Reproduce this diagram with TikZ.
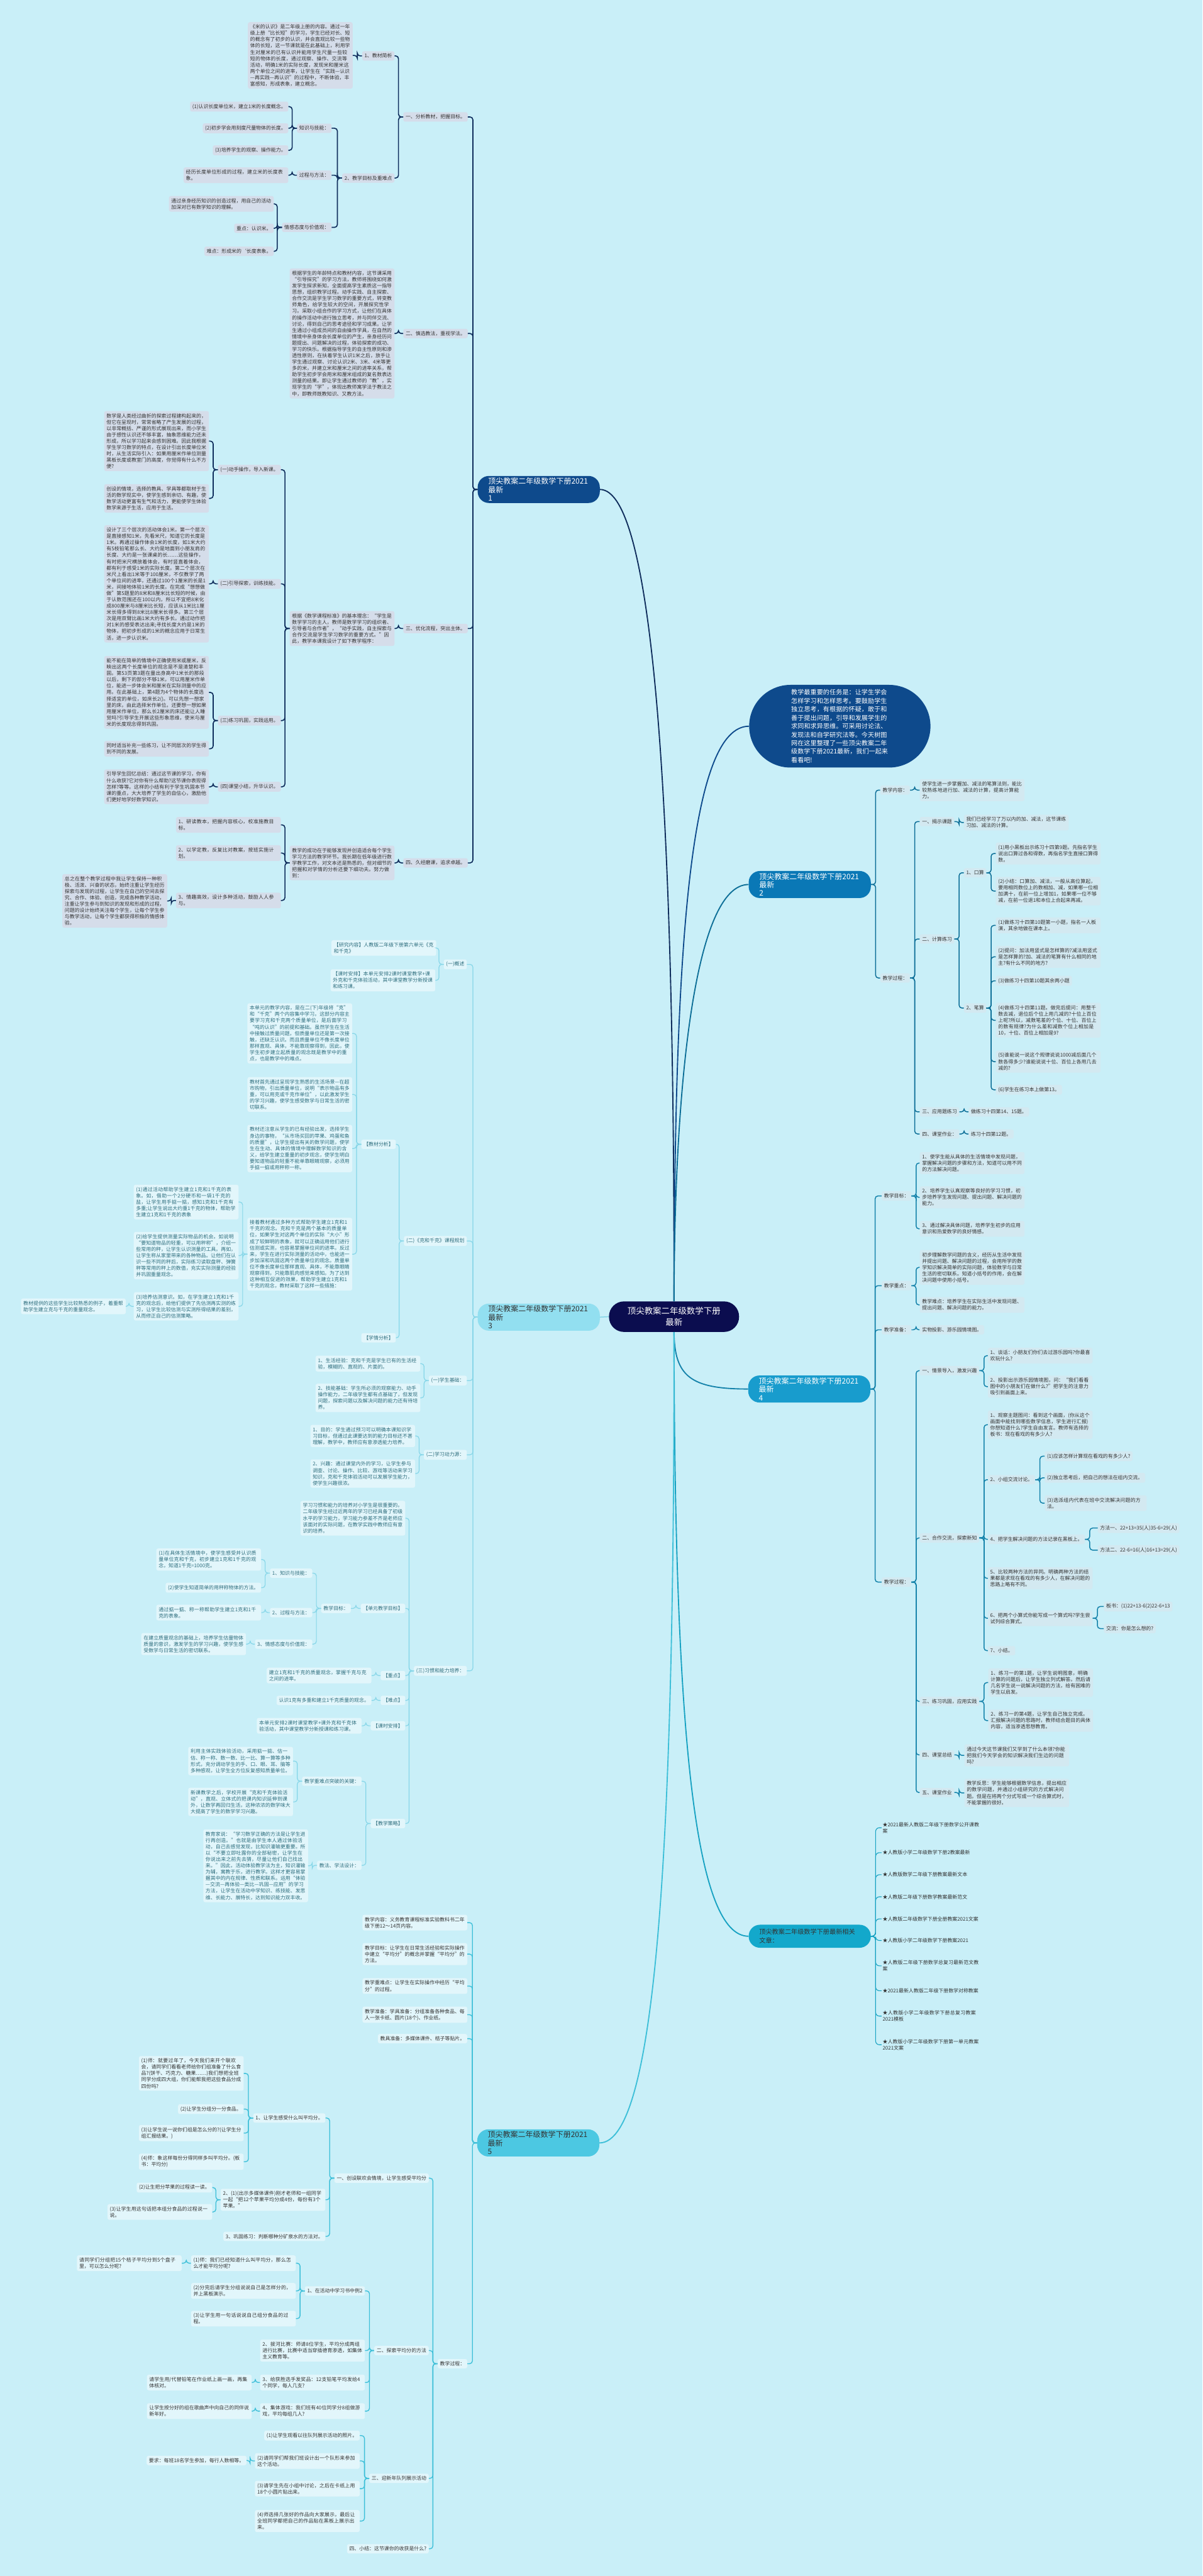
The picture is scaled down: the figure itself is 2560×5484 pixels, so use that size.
\documentclass[tikz,border=0pt]{standalone}
\usepackage{fontspec}
\setmainfont{Noto Sans CJK SC}
\XeTeXlinebreaklocale "zh"
\XeTeXlinebreakskip = 0pt plus 1pt
\usepackage{xcolor}
\usepackage{tikz}

\definecolor{bgc}{HTML}{C9EFF8}
\definecolor{ink}{HTML}{333333}
\definecolor{navy}{HTML}{0B0D4F}
\definecolor{bOne}{HTML}{0E4A8C}
\definecolor{lOne}{HTML}{0F2D5C}
\definecolor{fOne}{HTML}{D5DDEA}
\definecolor{bTwo}{HTML}{0A78B6}
\definecolor{lTwo}{HTML}{0C6E97}
\definecolor{fTwo}{HTML}{D3E9F1}
\definecolor{bThree}{HTML}{92DFF0}
\definecolor{lThree}{HTML}{86D6E8}
\definecolor{fThree}{HTML}{E2F6FB}
\definecolor{tThree}{HTML}{2E6E7E}
\definecolor{bFour}{HTML}{189CCD}
\definecolor{lFour}{HTML}{1482AA}
\definecolor{bFive}{HTML}{4CC8E2}
\definecolor{lFive}{HTML}{3DBFD8}
\definecolor{bSix}{HTML}{13A8CB}
\definecolor{lSix}{HTML}{17A2C2}

\newcommand{\txtcjk}{\fontsize{10.6pt}{13.5pt}\selectfont}
\newcommand{\rootcjk}{\fontsize{16pt}{18pt}\selectfont}
\newcommand{\introcjk}{\fontsize{13.5pt}{18pt}\selectfont}
\newcommand{\centercjk}{\fontsize{18pt}{24pt}\selectfont}
\newcommand{\linkL}[3]{\draw[#1] (#2.west) -- ++(-10,0) |- (#3.east);}
\newcommand{\linkR}[3]{\draw[#1] (#2.east) -- ++(10,0) |- (#3.west);}

\begin{document}
\begin{tikzpicture}[x=1pt, y=-1pt,
  every node/.style={font=\txtcjk, text=ink},
  lbox/.style={rectangle, rounded corners=4pt, inner xsep=5pt, inner ysep=5pt, anchor=east},
  rbox/.style={rectangle, rounded corners=4pt, inner xsep=5pt, inner ysep=5pt, anchor=west},
  para/.style={text width=213pt, align=left},
  root/.style={rectangle, rounded corners=24pt, font=\rootcjk, inner xsep=20pt, inner ysep=4pt,
               minimum width=260pt, minimum height=49pt, text width=215pt, align=left},
  bxOne/.style={lbox, fill=fOne},
  bxTwo/.style={rbox, fill=fTwo},
  bxThree/.style={lbox, fill=fThree, text=tThree},
  bxFour/.style={rbox, fill=fTwo},
  bxFive/.style={lbox, fill=fThree},
  bxSix/.style={rbox, text width=208pt, align=left, inner xsep=2pt},
  lnOne/.style={draw=lOne, line width=2.2pt, rounded corners=6pt},
  lnTwo/.style={draw=lTwo, line width=2pt, rounded corners=6pt},
  lnThree/.style={draw=lThree, line width=1.6pt, rounded corners=6pt},
  lnFour/.style={draw=lFour, line width=2pt, rounded corners=6pt},
  lnFive/.style={draw=lFive, line width=1.8pt, rounded corners=6pt},
  lnSix/.style={draw=lSix, line width=1.5pt, rounded corners=8pt}
]
\fill[bgc] (0,0) rectangle (2560,5484);
\useasboundingbox (0,0) rectangle (2560,5484);

% centre
\node[rectangle, rounded corners=32pt, fill=navy, text=white, font=\centercjk, align=center,
      minimum width=277pt, minimum height=65pt] (ctr) at (1435,2803) {顶尖教案二年级数学下册\\最新};
\node[rectangle, rounded corners=88pt, fill=bOne, text=white, font=\introcjk, text width=207pt,
      align=left, minimum width=386pt, minimum height=176pt] (intro) at (1788,1546)
  {教学最重要的任务是：让学生学会怎样学习和怎样思考。要鼓励学生独立思考，有根据的怀疑，敢于和善于提出问题，引导和发展学生的求同和求异思维。可采用讨论法、发现法和自学研究法等。今天树图网在这里整理了一些顶尖教案二年级数学下册2021最新，我们一起来看看吧!};

% branch 1
\node[root, fill=bOne, text=white] (b1) at (1147,1042) {顶尖教案二年级数学下册2021最新\\1};
\node[bxOne] (a1) at (996,249) {一、分析教材，把握目标。};
\node[bxOne] (a2) at (996,710) {二、慎选教法，重视学法。};
\node[bxOne] (a3) at (996,1338) {三、优化流程，突出主体。};
\node[bxOne] (a4) at (996,1837) {四、久经磨课，追求卓越。};
\node[bxOne] (a11) at (840,119) {1、教材简析};
\node[bxOne] (a12) at (840,379) {2、教学目标及重难点};
\node[bxOne, para] (a111) at (751,118) {《米的认识》是二年级上册的内容。通过一年级上册“比长短”的学习，学生已经对长、短的概念有了初步的认识，并会直观比较一些物体的长短，这一节课就是在此基础上，利用学生对厘米的已有认识并能用学生尺量一些较短的物体的长度，通过观察、操作、交流等活动，明确1米的实际长度，发现米和厘米这两个单位之间的进率，让学生在“实践—认识—再实践—再认识”的过程中，不断体验，丰富感知，形成表象，建立概念。};
\node[bxOne] (a121) at (706,273) {知识与技能：};
\node[bxOne] (a122) at (706,373) {过程与方法：};
\node[bxOne] (a123) at (706,484) {情感态度与价值观：};
\node[bxOne] (a1211) at (614,227) {(1)认识长度单位米，建立1米的长度概念。};
\node[bxOne] (a1212) at (614,273) {(2)初步学会用刻度尺量物体的长度。};
\node[bxOne] (a1213) at (614,320) {(3)培养学生的观察、操作能力。};
\node[bxOne, para] (a1221) at (614,373) {经历长度单位形成的过程，建立米的长度表象。};
\node[bxOne, para] (a1231) at (583,434) {通过亲身经历知识的创造过程，用自己的活动加深对已有数学知识的理解。};
\node[bxOne] (a1232) at (583,486) {重点：认识米。};
\node[bxOne] (a1233) at (583,535) {难点：形成米的`长度表象。};
\node[bxOne, para] (a21) at (840,710) {根据学生的年龄特点和教材内容，这节课采用“引导探究”的学习方法，教师将围绕如何激发学生探求新知，全面提高学生素质这一指导思想，组织教学过程。动手实践、自主探索、合作交流是学生学习数学的重要方式，转变教师角色，给学生较大的空间，开展探究性学习。采取小组合作的学习方式，让他们在具体的操作活动中进行独立思考，并与同伴交流、讨论，得到自己的思考途径和学习成果。让学生通过小组成员间的自由操作学具，在自然的情境中亲身体会长度单位的产生，亲身经历问题提出、问题解决的过程，体验探索的成功、学习的快乐。根据指导学生的自主性原则和渗透性原则，在扶着学生认识1米之后，放手让学生通过观察、讨论认识2米、3米、4米等更多的米，并建立米和厘米之间的进率关系，帮助学生初步学会用米和厘米组成的复名数表达测量的结果。即让学生通过教师的“教”，实现学生的“学”，体现出教师寓学法于教法之中，即教师既教知识、又教方法。};
\node[bxOne, para] (a31) at (840,1338) {根据《数学课程标准》的基本理念：“学生是数学学习的主人，教师是数学学习的组织者、引导者与合作者”，“动手实践，自主探索与合作交流是学生学习数学的重要方式。”因此，教学本课我设计了如下教学程序：};
\node[bxOne] (a311) at (598,1000) {(一)动手操作，导入新课。};
\node[bxOne] (a312) at (598,1243) {(二)引导探索，训练技能。};
\node[bxOne] (a313) at (598,1534) {(三)练习巩固，实践运用。};
\node[bxOne] (a314) at (598,1675) {(四)课堂小结，升华认识。};
\node[bxOne, para] (a3111) at (445,939) {数学是人类经过曲折的探索过程建构起来的，但它在呈现时，常常省略了产生发展的过程，以非常概括、严谨的形式展现出来，而小学生由于感性认识还不够丰富，抽象思维能力还未形成，所以学习起来会感到困难。因此我根据学生学习数学的特点，在设计引出长度单位米时，从生活实际引入：如果用厘米作单位测量黑板长度或教室门的高度，你觉得有什么不方便?};
\node[bxOne, para] (a3112) at (445,1061) {创设的情境，选择的教具、学具等都取材于生活的数学现实中，使学生感到亲切、有趣，使数学活动更富有生气和活力，更能使学生体验数学来源于生活，应用于生活。};
\node[bxOne, para] (a3121) at (445,1243) {设计了三个层次的活动体会1米。第一个层次是直接感知1米，先看米尺，知道它的长度是1米。再通过操作体会1米的长度，如1米大约有5枝铅笔那么长、大约是地面到小朋友肩的长度、大约是一张课桌的长……这些操作，有时把米尺横放着体会，有时竖直着体会，都有利于感受1米的实际长度。第二个层次在米尺上看出1米等于100厘米，不仅教学了两个单位间的进率，还通过100个1厘米的长是1米，间接地体验1米的长度。在完成“想想做做”第5题里的8米和8厘米比长短的时候，由于认数范围还在100以内，所以不宜把8米化成800厘米与8厘米比长短，应该从1米比1厘米长得多得到8米比8厘米长得多。第三个层次是用双臂比画1米大约有多长。通过动作把对1米的感受表达出来;寻找长度大约是1米的物体，把初步形成的1米的概念应用于日常生活，进一步认识米。};
\node[bxOne, para] (a3131) at (445,1474) {能不能在简单的情境中正确使用米或厘米，反映出这两个长度单位的观念是不是清楚和丰固。第53页第3题在量出身高中1米长的那段以后，剩下的部分不够1米，可以用厘米作单位，能进一步体会米和厘米在实际测量中的应用。在此基础上，第4题为4个物体的长度选择适宜的单位，如床长2()。可以先想一想家里的床，由此选择米作单位。还要想一想如果用厘米作单位，那么长2厘米的床还能让人睡觉吗?引导学生开展这些形象思维，使米与厘米的长度观念得到巩固。};
\node[bxOne, para] (a3132) at (445,1594) {同时适当补充一些练习，让不同层次的学生得到不同的发展。};
\node[bxOne, para] (a3141) at (445,1675) {引导学生回忆总结：通过这节课的学习，你有什么收获?它对你有什么帮助?这节课你表现得怎样?等等。这样的小结有利于学生巩固本节课的重点，大大培养了学生的自信心，激励他们更好地学好数学知识。};
\node[bxOne, para] (a41) at (840,1837) {教学的成功在于能够发现并创造适合每个学生学习方法的教学环节。我长期在低年级进行数学教学工作，对文本还是熟悉的，但对细节的把握和对学情的分析还要下细功夫。努力做到：};
\node[bxOne, para] (a411) at (598,1756) {1、研读教本，把握内容核心，校准施教目标。};
\node[bxOne, para] (a412) at (598,1816) {2、以学定教，反复比对教案，按班实施计划。};
\node[bxOne, para] (a413) at (598,1917) {3、情趣高效，设计多种活动，鼓励人人参与。};
\node[bxOne, para] (a4131) at (356,1918) {总之在整个教学过程中我让学生保持一种积极、活泼、兴奋的状态，始终注重让学生经历探索与发现的过程，让学生在自己的空间去探究、合作、体验、创造，完成各种教学活动，注重让学生参与到知识的发现和形成的过程，问题的设计始终关注每个学生，让每个学生参与教学活动，让每个学生都获得积极的情感体验。};

\linkL{lnOne}{b1}{a1} \linkL{lnOne}{b1}{a2} \linkL{lnOne}{b1}{a3} \linkL{lnOne}{b1}{a4}
\linkL{lnOne}{a1}{a11} \linkL{lnOne}{a1}{a12} \linkL{lnOne}{a11}{a111}
\linkL{lnOne}{a12}{a121} \linkL{lnOne}{a12}{a122} \linkL{lnOne}{a12}{a123}
\linkL{lnOne}{a121}{a1211} \linkL{lnOne}{a121}{a1212} \linkL{lnOne}{a121}{a1213}
\linkL{lnOne}{a122}{a1221}
\linkL{lnOne}{a123}{a1231} \linkL{lnOne}{a123}{a1232} \linkL{lnOne}{a123}{a1233}
\linkL{lnOne}{a2}{a21} \linkL{lnOne}{a3}{a31}
\linkL{lnOne}{a31}{a311} \linkL{lnOne}{a31}{a312} \linkL{lnOne}{a31}{a313} \linkL{lnOne}{a31}{a314}
\linkL{lnOne}{a311}{a3111} \linkL{lnOne}{a311}{a3112} \linkL{lnOne}{a312}{a3121}
\linkL{lnOne}{a313}{a3131} \linkL{lnOne}{a313}{a3132} \linkL{lnOne}{a314}{a3141}
\linkL{lnOne}{a4}{a41}
\linkL{lnOne}{a41}{a411} \linkL{lnOne}{a41}{a412} \linkL{lnOne}{a41}{a413}
\linkL{lnOne}{a413}{a4131}

% branch 2
\node[root, fill=bTwo, text=white] (b2) at (1724,1883) {顶尖教案二年级数学下册2021最新\\2};
\node[bxTwo] (c1) at (1874,1682) {教学内容：};
\node[bxTwo] (c2) at (1874,2082) {教学过程：};
\node[bxTwo, para] (c11) at (1958,1682) {使学生进一步掌握加、减法的笔算法则，能比较熟练地进行加、减法的计算，提高计算能力。};
\node[bxTwo] (c21) at (1958,1749) {一、揭示课题};
\node[bxTwo] (c22) at (1958,1999) {二、计算练习};
\node[bxTwo] (c23) at (1958,2367) {三、应用题练习};
\node[bxTwo] (c24) at (1958,2414) {四、课堂作业：};
\node[bxTwo, para] (c211) at (2052,1751) {我们已经学习了万以内的加、减法，这节课练习加、减法的计算。};
\node[bxTwo] (c221) at (2052,1858) {1、口算};
\node[bxTwo] (c222) at (2052,2146) {2、笔算};
\node[bxTwo, para] (c2211) at (2120,1817) {(1)用小黑板出示练习十四第9题。先指名学生说出口算过各和得数，再指名学生直接口算得数。};
\node[bxTwo, para] (c2212) at (2120,1897) {(2)小结：口算加、减法，一般从高位算起，要用相同数位上的数相加、减，如果哪一位相加满十，在前一位上增加1，如果哪一位不够减，在前一位退1和本位上合起来再减。};
\node[bxTwo, para] (c2221) at (2120,1970) {(1)做练习十四第10题第一小题，指名一人板演，其余地做在课本上。};
\node[bxTwo, para] (c2222) at (2120,2037) {(2)提问：加法用竖式是怎样算的?减法用竖式是怎样算的?加、减法的笔算有什么相同的地主?有什么不同的地方?};
\node[bxTwo] (c2223) at (2120,2088) {(3)做练习十四第10题其余两小题};
\node[bxTwo, para] (c2224) at (2120,2172) {(4)做练习十四第11题。做完后提问：用整千数去减，退位后个位上用几减的?十位上百位上呢?所以，减数笔差的个位、十位、百位上的数有规律?为什么差和减数个位上相加是10，十位、百位上相加是9?};
\node[bxTwo, para] (c2225) at (2120,2260) {(5)谁能说一说这个规律说说1000减后面几个数各得多少?谁能说说十位、百位上各用几去减的?};
\node[bxTwo] (c2226) at (2120,2320) {(6)学生在练习本上做第13。};
\node[bxTwo] (c231) at (2062,2367) {做练习十四第14、15题。};
\node[bxTwo] (c241) at (2062,2414) {练习十四第12题。};

\linkR{lnTwo}{b2}{c1} \linkR{lnTwo}{b2}{c2} \linkR{lnTwo}{c1}{c11}
\linkR{lnTwo}{c2}{c21} \linkR{lnTwo}{c2}{c22} \linkR{lnTwo}{c2}{c23} \linkR{lnTwo}{c2}{c24}
\linkR{lnTwo}{c21}{c211} \linkR{lnTwo}{c22}{c221} \linkR{lnTwo}{c22}{c222}
\linkR{lnTwo}{c221}{c2211} \linkR{lnTwo}{c221}{c2212}
\linkR{lnTwo}{c222}{c2221} \linkR{lnTwo}{c222}{c2222} \linkR{lnTwo}{c222}{c2223}
\linkR{lnTwo}{c222}{c2224} \linkR{lnTwo}{c222}{c2225} \linkR{lnTwo}{c222}{c2226}
\linkR{lnTwo}{c23}{c231} \linkR{lnTwo}{c24}{c241}

% branch 3
\node[root, fill=bThree] (b3) at (1147,2804) {顶尖教案二年级数学下册2021最新\\3};
\node[bxThree] (d1) at (994,2053) {(一)概述};
\node[bxThree] (d2) at (994,2642) {(二)《克和千克》课程规划};
\node[bxThree] (d3) at (994,2939) {(一)学生基础：};
\node[bxThree] (d4) at (994,3097) {(二)学习动力源：};
\node[bxThree] (d5) at (994,3557) {(三)习惯和能力培养：};
\node[bxThree, para] (d11) at (929,2018) {【研究内容】人教版二年级下册第六单元《克和千克》};
\node[bxThree, para] (d12) at (927,2087) {【课时安排】本单元安排2课时课堂教学+课外克和千克体验活动，其中课堂教学分新授课和练习课。};
\node[bxThree] (d21) at (843,2436) {【教材分析】};
\node[bxThree] (d22) at (843,2848) {【学情分析】};
\node[bxThree, para] (d211) at (750,2200) {本单元的教学内容，是在二(下)年级将“克”和“千克”两个内容集中学习。这部分内容主要学习克和千克两个质量单位，是后面学习“吨的认识”的前提和基础。虽然学生在生活中接触过质量问题，但质量单位还是第一次接触，还缺乏认识。而且质量单位不像长度单位那样直观、具体，不能靠观察得到，因此，使学生初步建立起质量的观念既是教学中的重点，也是教学中的难点。};
\node[bxThree, para] (d212) at (750,2330) {教材首先通过呈现学生熟悉的生活场景—在超市购物，引出质量单位，说明“表示物品有多重，可以用克或千克作单位”，以此激发学生的学习兴趣，使学生感受数学与日常生活的密切联系。};
\node[bxThree, para] (d213) at (750,2445) {教材还注意从学生的已有经验出发，选择学生身边的事物，“从市场买回的苹果、鸡蛋和鱼的质量”，让学生提出有关的数学问题，使学生在生动、具体的情境中理解数学知识的含义，给学生建立重量的初步观念，使学生明白要知道物品的轻重不能单靠眼睛观察，必须用手掂一掂或用秤称一称。};
\node[bxThree, para] (d214) at (750,2670) {接着教材通过多种方式帮助学生建立1克和1千克的观念。克和千克是两个基本的质量单位，如果学生对这两个单位的实际“大小”形成了较鲜明的表象，就可以正确运用他们进行估测或实测，也容易掌握单位间的进率。反过来，学生在进行实际测量的活动中，也能进一步加深和巩固这两个质量单位的观念。质量单位不像长度单位那样直观、具体，不能靠眼睛观察得到，只能靠肌肉感觉来感知。为了达到这种相互促进的效果，帮助学生建立1克和1千克的观念，教材采取了这样一些措施：};
\node[bxThree, para] (d2141) at (508,2559) {(1)通过活动帮助学生建立1克和1千克的表象。如，借助一个2分硬币和一袋1千克的盐，让学生用手掂一掂，感知1克和1千克有多重;让学生说出大约重1千克的物体，帮助学生建立1克和1千克的表象};
\node[bxThree, para] (d2142) at (508,2673) {(2)给学生提供测量实际物品的机会。如说明“要知道物品的轻重，可以用秤称”，介绍一些常用的秤，让学生认识测量的工具。再如，让学生称从家里带来的各种物品。让他们在认识一些不同的秤后，实际练习读取盘秤、弹簧秤等常用的秤上的数值，充实实际测量的经验并巩固重量观念。};
\node[bxThree, para] (d2143) at (508,2781) {(3)培养估测意识。如，在学生建立1克和1千克的观念后，给他们提供了先估测再实测的练习，让学生比较估测与实测所得结果的差别，从而修正自己的估测策略。};
\node[bxThree, para] (d21431) at (268,2781) {教材提供的这些学生比较熟悉的例子，着重帮助学生建立克与千克的重量观念。};
\node[bxThree, para] (d31) at (895,2903) {1、生活经验：克和千克是学生已有的生活经验，模糊的、直观的、片面的。};
\node[bxThree, para] (d32) at (895,2976) {2、技能基础：学生所必须的观察能力、动手操作能力，二年级学生都有点基础了，但发现问题，探索问题以及解决问题的能力还有待培养。};
\node[bxThree, para] (d41) at (884,3057) {1、目的：学生通过预习可以明确本课知识学习目标，但通过此课要达到的能力目标还不甚理解，教学中，教师应有意渗透能力培养。};
\node[bxThree, para] (d42) at (884,3137) {2、兴趣：通过课堂内外的学习，让学生参与调查、讨论、操作、比较、游戏等活动来学习知识，克和千克体验活动可以发展学生能力，使学生兴趣很浓。};
\node[bxThree, para] (d51) at (863,3232) {学习习惯和能力的培养对小学生是很重要的。二年级学生经过近两年的学习已经具备了初级水平的学习能力，学习能力参差不齐是老师应该面对的实际问题，在教学实践中教师应有意识的培养。};
\node[bxThree] (d52) at (863,3424) {【单元教学目标】};
\node[bxThree] (d53) at (863,3567) {【重点】};
\node[bxThree] (d54) at (863,3620) {【难点】};
\node[bxThree] (d55) at (863,3674) {【课时安排】};
\node[bxThree] (d56) at (863,3882) {【教学策略】};
\node[bxThree] (d521) at (747,3424) {教学目标：};
\node[bxThree] (d5211) at (665,3349) {1、知识与技能：};
\node[bxThree] (d5212) at (665,3433) {2、过程与方法：};
\node[bxThree] (d5213) at (665,3500) {3、情感态度与价值观：};
\node[bxThree, para] (d52111) at (556,3320) {(1)在具体生活情境中，使学生感受并认识质量单位克和千克，初步建立1克和1千克的观念，知道1千克=1000克。};
\node[bxThree] (d52112) at (556,3380) {(2)使学生知道简单的用秤称物体的方法。};
\node[bxThree, para] (d52121) at (556,3433) {通过掂一掂、称一称帮助学生建立1克和1千克的表象。};
\node[bxThree, para] (d52131) at (524,3500) {在建立质量观念的基础上，培养学生估量物体质量的意识，激发学生的学习兴趣，使学生感受数学与日常生活的密切联系。};
\node[bxThree, para] (d531) at (791,3567) {建立1克和1千克的质量观念，掌握千克与克之间的进率。};
\node[bxThree] (d541) at (791,3620) {认识1克有多重和建立1千克质量的观念。};
\node[bxThree, para] (d551) at (770,3674) {本单元安排2课时课堂教学+课外克和千克体验活动，其中课堂教学分新授课和练习课。};
\node[bxThree] (d561) at (770,3792) {教学重难点突破的关键：};
\node[bxThree] (d562) at (770,3971) {教法、学法设计：};
\node[bxThree, para] (d5611) at (624,3749) {利用主体实践体验活动，采用掂一掂、估一估、称一称、数一数、比一比、算一算等多种形式，充分调动学生的手、口、眼、耳、脑等多种感观，让学生全方位反复感知质量单位。};
\node[bxThree, para] (d5612) at (624,3836) {新课教学之后，学校开展“克和千克体验活动”，直观、立体式的把课内知识延伸到课外，让数学再回归生活，这种浓浓的数学味大大提高了学生的数学学习兴趣。};
\node[bxThree, para] (d5621) at (656,3972) {教育家说：“学习数学正确的方法是让学生进行再创造。”也就是由学生本人通过体验活动，自己去感觉发现，比知识灌输更重要。所以“不要立即吐露你的全部秘密，让学生在你说出来之前先去猜，尽量让他们自己找出来。”因此，活动体验教学法为主，知识灌输为辅，寓教于乐，进行教学。这样才更容易掌握其中的内在规律、性质和联系。运用“体验—交流—再体验—类比—巩固—应用”的学习方法，让学生在活动中学知识、练技能、发思维、长能力、展特长，达到知识能力双丰收。};

\linkL{lnThree}{b3}{d1} \linkL{lnThree}{b3}{d2} \linkL{lnThree}{b3}{d3} \linkL{lnThree}{b3}{d4} \linkL{lnThree}{b3}{d5}
\linkL{lnThree}{d1}{d11} \linkL{lnThree}{d1}{d12}
\linkL{lnThree}{d2}{d21} \linkL{lnThree}{d2}{d22}
\linkL{lnThree}{d21}{d211} \linkL{lnThree}{d21}{d212} \linkL{lnThree}{d21}{d213} \linkL{lnThree}{d21}{d214}
\linkL{lnThree}{d214}{d2141} \linkL{lnThree}{d214}{d2142} \linkL{lnThree}{d214}{d2143}
\linkL{lnThree}{d2143}{d21431}
\linkL{lnThree}{d3}{d31} \linkL{lnThree}{d3}{d32}
\linkL{lnThree}{d4}{d41} \linkL{lnThree}{d4}{d42}
\linkL{lnThree}{d5}{d51} \linkL{lnThree}{d5}{d52} \linkL{lnThree}{d5}{d53}
\linkL{lnThree}{d5}{d54} \linkL{lnThree}{d5}{d55} \linkL{lnThree}{d5}{d56}
\linkL{lnThree}{d52}{d521}
\linkL{lnThree}{d521}{d5211} \linkL{lnThree}{d521}{d5212} \linkL{lnThree}{d521}{d5213}
\linkL{lnThree}{d5211}{d52111} \linkL{lnThree}{d5211}{d52112}
\linkL{lnThree}{d5212}{d52121} \linkL{lnThree}{d5213}{d52131}
\linkL{lnThree}{d53}{d531} \linkL{lnThree}{d54}{d541} \linkL{lnThree}{d55}{d551}
\linkL{lnThree}{d56}{d561} \linkL{lnThree}{d56}{d562}
\linkL{lnThree}{d561}{d5611} \linkL{lnThree}{d561}{d5612} \linkL{lnThree}{d562}{d5621}

% branch 4
\node[root, fill=bFour, text=white] (b4) at (1723,2957) {顶尖教案二年级数学下册2021最新\\4};
\node[bxFour] (e1) at (1877,2546) {教学目标：};
\node[bxFour] (e2) at (1877,2737) {教学重点：};
\node[bxFour] (e3) at (1877,2831) {教学准备：};
\node[bxFour] (e4) at (1877,3368) {教学过程：};
\node[bxFour, para] (e11) at (1958,2476) {1、使学生能从具体的生活情境中发现问题，掌握解决问题的步骤和方法，知道可以用不同的方法解决问题。};
\node[bxFour, para] (e12) at (1958,2549) {2、培养学生认真观察等良好的学习习惯，初步培养学生发现问题、提出问题、解决问题的能力。};
\node[bxFour, para] (e13) at (1958,2616) {3、通过解决具体问题，培养学生初步的应用意识和热爱数学的良好情感。};
\node[bxFour, para] (e21) at (1958,2698) {初步理解数学问题的含义，经历从生活中发现并提出问题、解决问题的过程，会用所学的数学知识解决简单的实际问题，体验数学与日常生活的密切联系。知道小括号的作用，会在解决问题中使用小括号。};
\node[bxFour, para] (e22) at (1958,2778) {教学难点：培养学生在实际生活中发现问题、提出问题、解决问题的能力。};
\node[bxFour] (e31) at (1958,2831) {实物投影、游乐园情境图。};
\node[bxFour] (e41) at (1958,2918) {一、情景导入，激发兴趣};
\node[bxFour] (e42) at (1958,3274) {二、合作交流，探索新知};
\node[bxFour] (e43) at (1958,3622) {三、练习巩固，应用实践};
\node[bxFour] (e44) at (1958,3736) {四、课堂总结};
\node[bxFour] (e45) at (1958,3816) {五、课堂作业};
\node[bxFour, para] (e411) at (2103,2886) {1、谈话：小朋友们你们去过游乐园吗?你最喜欢玩什么?};
\node[bxFour, para] (e412) at (2103,2952) {2、投影出示游乐园情境图，问：“我们看看图中的小朋友们在做什么?”把学生的注意力吸引到画面上来。};
\node[bxFour, para] (e421) at (2103,3033) {1、观察主题图问：看到这个画面，(你从这个画面中能找到哪些数学信息，学生进行汇报)你想知道什么?学生自由发言。教师有选择的板书：现在看戏的有多少人?};
\node[bxFour] (e422) at (2103,3150) {2、小组交流讨论。};
\node[bxFour] (e423) at (2103,3277) {4、把学生解决问题的方法记录在黑板上。};
\node[bxFour, para] (e424) at (2103,3360) {5、比较两种方法的异同。明确两种方法的结果都是求现在看戏的有多少人，在解决问题的思路上略有不同。};
\node[bxFour, para] (e425) at (2103,3445) {6、把两个小算式你能写成一个算式吗?学生尝试列综合算式。};
\node[bxFour] (e426) at (2103,3514) {7、小结。};
\node[bxFour] (e4221) at (2224,3100) {(1)应该怎样计算现在看戏的有多少人?};
\node[bxFour] (e4222) at (2224,3146) {(2)独立思考后，把自己的想法在组内交流。};
\node[bxFour, text width=207pt, align=left] (e4223) at (2224,3200) {(3)选派组内代表在班中交流解决问题的方法。};
\node[bxFour] (e4231) at (2337,3253) {方法一、22+13=35(人)35-6=29(人)};
\node[bxFour] (e4232) at (2337,3300) {方法二、22-6=16(人)16+13=29(人)};
\node[bxFour] (e4251) at (2350,3420) {板书：(1)22+13-6(2)22-6+13};
\node[bxFour] (e4252) at (2350,3467) {交流：你是怎么想的?};
\node[bxFour, para] (e431) at (2104,3582) {1、练习一的第1题，让学生说明图意，明确计算的问题后，让学生独立列式解答。然后请几名学生说一说解决问题的方法，给有困难的学生以启发。};
\node[bxFour, para] (e432) at (2104,3663) {2、练习一的第4题，让学生自己独立完成。汇报解决问题的思路时，教师结合题目的具体内容，适当渗透思想教育。};
\node[bxFour, para] (e441) at (2053,3737) {通过今天这节课我们又学到了什么本领?你能把我们今天学会的知识解决我们生边的问题吗?};
\node[bxFour, para] (e451) at (2053,3817) {教学反思：学生能够根据数学信息，提出相应的数学问题，并通过小组研究的方式解决问题。但是在将两个分式写成一个综合算式时，不能掌握的很好。};

\linkR{lnFour}{b4}{e1} \linkR{lnFour}{b4}{e2} \linkR{lnFour}{b4}{e3} \linkR{lnFour}{b4}{e4}
\linkR{lnFour}{e1}{e11} \linkR{lnFour}{e1}{e12} \linkR{lnFour}{e1}{e13}
\linkR{lnFour}{e2}{e21} \linkR{lnFour}{e2}{e22} \linkR{lnFour}{e3}{e31}
\linkR{lnFour}{e4}{e41} \linkR{lnFour}{e4}{e42} \linkR{lnFour}{e4}{e43} \linkR{lnFour}{e4}{e44} \linkR{lnFour}{e4}{e45}
\linkR{lnFour}{e41}{e411} \linkR{lnFour}{e41}{e412}
\linkR{lnFour}{e42}{e421} \linkR{lnFour}{e42}{e422} \linkR{lnFour}{e42}{e423}
\linkR{lnFour}{e42}{e424} \linkR{lnFour}{e42}{e425} \linkR{lnFour}{e42}{e426}
\linkR{lnFour}{e422}{e4221} \linkR{lnFour}{e422}{e4222} \linkR{lnFour}{e422}{e4223}
\linkR{lnFour}{e423}{e4231} \linkR{lnFour}{e423}{e4232}
\linkR{lnFour}{e425}{e4251} \linkR{lnFour}{e425}{e4252}
\linkR{lnFour}{e43}{e431} \linkR{lnFour}{e43}{e432}
\linkR{lnFour}{e44}{e441} \linkR{lnFour}{e45}{e451}

% branch 5
\node[root, fill=bFive] (b5) at (1146,4562) {顶尖教案二年级数学下册2021最新\\5};
\node[bxFive, para] (g1) at (995,4093) {教学内容：义务教育课程标准实验教科书二年级下册12～14页内容。};
\node[bxFive, para] (g2) at (995,4160) {教学目标：让学生在日常生活经验和实际操作中建立“平均分”的概念并掌握“平均分”的方法。};
\node[bxFive, para] (g3) at (995,4228) {教学重难点：让学生在实际操作中经历“平均分”的过程。};
\node[bxFive, para] (g4) at (995,4289) {教学准备：学具准备：分组准备各种食品、每人一张卡纸、圆片(18个)、作业纸。};
\node[bxFive] (g5) at (995,4340) {教具准备：多媒体课件、桔子等贴片。};
\node[bxFive] (g6) at (995,5032) {教学过程：};
\node[bxFive] (g61) at (913,4637) {一、创设联欢会情境，让学生感受平均分};
\node[bxFive] (g62) at (913,5004) {二、探索平均分的方法};
\node[bxFive] (g63) at (913,5276) {三、迎新年队列展示活动};
\node[bxFive] (g64) at (913,5426) {四、小结：这节课你的收获是什么?};
\node[bxFive] (g611) at (693,4509) {1、让学生感受什么叫平均分。};
\node[bxFive, para] (g612) at (693,4683) {2、(1)(出示多媒体课件)刚才老师和一组同学一起“把12个苹果平均分成4份，每份有3个苹果。”};
\node[bxFive] (g613) at (693,4761) {3、巩固练习：判断哪种分矿泉水的方法对。};
\node[bxFive, para] (g6111) at (519,4414) {(1)师：就要过年了，今天我们来开个联欢会，请同学们看看老师给你们组准备了什么食品?(饼干、巧克力、糖果……)我们想把全班同学分成四大组，你们能帮我把这些食品分成四份吗?};
\node[bxFive] (g6112) at (519,4490) {(2)让学生分组分一分食品。};
\node[bxFive, para] (g6113) at (519,4541) {(3)让学生说一说你们组是怎么分的?(让学生分组汇报结果。)};
\node[bxFive, para] (g6114) at (519,4602) {(4)师：象这样每份分得同样多叫平均分。(板书：平均分)};
\node[bxFive] (g6121) at (452,4657) {(2)让生把分苹果的过程读一读。};
\node[bxFive, para] (g6122) at (452,4709) {(3)让学生用这句话把本组分食品的过程说一说。};
\node[bxFive] (g621) at (777,4877) {1、在活动中学习书中例2};
\node[bxFive, para] (g622) at (777,5004) {2、拔河比赛：师请8位学生，平均分成两组进行比赛，比赛中适当穿插德育渗透，如集体主义教育等。};
\node[bxFive, para] (g623) at (777,5072) {3、给获胜选手发奖品：12支铅笔平均发给4个同学，每人几支?};
\node[bxFive, para] (g624) at (777,5133) {4、集体游戏：我们班有40位同学分8组做游戏，平均每组几人?};
\node[bxFive, para] (g6211) at (630,4818) {(1)师：我们已经知道什么叫平均分，那么怎么才能平均分呢?};
\node[bxFive, para] (g6212) at (630,4877) {(2)分完后请学生分组说说自己是怎样分的，并上黑板演示。};
\node[bxFive, para] (g6213) at (630,4936) {(3)让学生用一句话说说自己组分食品的过程。};
\node[bxFive, para] (g62111) at (387,4818) {请同学们分组把15个桔子平均分到5个盘子里，可以怎么分呢?};
\node[bxFive, para] (g6231) at (536,5072) {请学生用/代替铅笔在作业纸上画一画，再集体核对。};
\node[bxFive, para] (g6241) at (536,5133) {让学生按分好的组在歌曲声中向自己的同伴说新年好。};
\node[bxFive] (g631) at (766,5185) {(1)让学生观看以往队列展示活动的照片。};
\node[bxFive, para] (g632) at (766,5239) {(2)请同学们帮我们班设计出一个队形来参加这个活动。};
\node[bxFive, para] (g633) at (766,5298) {(3)请学生先在小组中讨论，之后在卡纸上用18个小圆片贴出来。};
\node[bxFive, para] (g634) at (766,5367) {(4)师选择几张好的作品向大家展示，最后让全班同学都把自己的作品贴在黑板上展示出来。};
\node[bxFive] (g6321) at (525,5238) {要求：每班18名学生参加，每行人数相等。};

\linkL{lnFive}{b5}{g1} \linkL{lnFive}{b5}{g2} \linkL{lnFive}{b5}{g3}
\linkL{lnFive}{b5}{g4} \linkL{lnFive}{b5}{g5} \linkL{lnFive}{b5}{g6}
\linkL{lnFive}{g6}{g61} \linkL{lnFive}{g6}{g62} \linkL{lnFive}{g6}{g63} \linkL{lnFive}{g6}{g64}
\linkL{lnFive}{g61}{g611} \linkL{lnFive}{g61}{g612} \linkL{lnFive}{g61}{g613}
\linkL{lnFive}{g611}{g6111} \linkL{lnFive}{g611}{g6112} \linkL{lnFive}{g611}{g6113} \linkL{lnFive}{g611}{g6114}
\linkL{lnFive}{g612}{g6121} \linkL{lnFive}{g612}{g6122}
\linkL{lnFive}{g62}{g621} \linkL{lnFive}{g62}{g622} \linkL{lnFive}{g62}{g623} \linkL{lnFive}{g62}{g624}
\linkL{lnFive}{g621}{g6211} \linkL{lnFive}{g621}{g6212} \linkL{lnFive}{g621}{g6213}
\linkL{lnFive}{g6211}{g62111} \linkL{lnFive}{g623}{g6231} \linkL{lnFive}{g624}{g6241}
\linkL{lnFive}{g63}{g631} \linkL{lnFive}{g63}{g632} \linkL{lnFive}{g63}{g633} \linkL{lnFive}{g63}{g634}
\linkL{lnFive}{g632}{g6321}

% branch 6
\node[root, fill=bSix, font=\fontsize{13.6pt}{18pt}\selectfont] (b6) at (1724,4122) {顶尖教案二年级数学下册最新相关\\文章：};
\node[bxSix] (f1) at (1877,3891) {★2021最新人教版二年级下册数学公开课教案};
\node[bxSix] (f2) at (1877,3944) {★人教版小学二年级数学下册2教案最新};
\node[bxSix] (f3) at (1877,3991) {★人教版数学二年级下册教案最新文本};
\node[bxSix] (f4) at (1877,4038) {★人教版二年级下册数学教案最新范文};
\node[bxSix] (f5) at (1877,4085) {★人教版二年级数学下册全册教案2021文案};
\node[bxSix] (f6) at (1877,4131) {★人教版小学二年级数学下册教案2021};
\node[bxSix] (f7) at (1877,4185) {★人教版二年级下册数学总复习最新范文教案};
\node[bxSix] (f8) at (1877,4238) {★2021最新人教版二年级下册数学对称教案};
\node[bxSix] (f9) at (1877,4292) {★人教版小学二年级数学下册总复习教案2021模板};
\node[bxSix] (f10) at (1877,4353) {★人教版小学二年级数学下册第一单元教案2021文案};

\linkR{lnSix}{b6}{f1} \linkR{lnSix}{b6}{f2} \linkR{lnSix}{b6}{f3} \linkR{lnSix}{b6}{f4} \linkR{lnSix}{b6}{f5}
\linkR{lnSix}{b6}{f6} \linkR{lnSix}{b6}{f7} \linkR{lnSix}{b6}{f8} \linkR{lnSix}{b6}{f9} \linkR{lnSix}{b6}{f10}

% main connectors
\draw[lOne, line width=2.5pt] (ctr.north) .. controls (1436,1700) and (1390,1042) .. (b1.east);
\draw[bOne, line width=2.5pt] (ctr.north) .. controls (1436,2000) and (1470,1546) .. (intro.west);
\draw[lTwo, line width=2.5pt] (ctr.north) .. controls (1436,2300) and (1480,1883) .. (b2.west);
\draw[lThree, line width=2pt] (ctr.west) -- (b3.east);
\draw[lFour, line width=2.5pt] (ctr.south) .. controls (1436,2930) and (1470,2957) .. (b4.west);
\draw[lSix, line width=2.5pt] (ctr.south) .. controls (1436,3700) and (1480,4122) .. (b6.west);
\draw[lFive, line width=2.5pt] (ctr.south) .. controls (1436,3900) and (1400,4562) .. (b5.east);
\end{tikzpicture}
\end{document}
